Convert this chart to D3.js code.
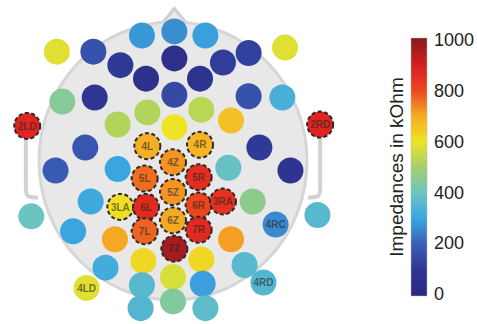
<!DOCTYPE html>
<html>
<head>
<meta charset="utf-8">
<script src="https://cdn.jsdelivr.net/npm/d3@7"></script>
<style>
  body { margin: 0; background: #fff; }
  svg { display: block; font-family: "Liberation Sans", Arial, sans-serif; }
</style>
</head>
<body>
<div class="canvas"></div>
<script>
// electrode labels ("" = unlabelled), head-relative positions and impedances (kOhm)
const labels = ["", "", "", "", "", "", "", "", "", "", "", "", "", "", "", "", "", "", "", "", "", "", "2LD", "2RD", "4L", "4R", "", "", "4Z", "", "", "", "", "5L", "5R", "5Z", "", "", "3LA", "6L", "6R", "3RA", "", "", "4RC", "6Z", "7L", "7R", "", "", "", "7Z", "", "", "", "", "", "", "", "4LD", "4RD", "", "", ""];
const posX = [-0.23, 0.01, 0.24, -0.86, -0.59, -0.39, 0.01, 0.37, 0.56, 0.83, -0.20, 0.20, -0.82, -0.58, 0.01, 0.56, 0.81, -0.19, 0.21, 0.43, -0.41, 0.01, -1.08, 1.09, -0.19, 0.20, -0.65, 0.64, 0.00, -0.87, -0.41, 0.41, 0.87, -0.21, 0.19, 0.00, -0.61, 0.59, -0.39, -0.20, 0.19, 0.37, -1.05, 1.07, 0.76, 0.00, -0.21, 0.19, -0.74, -0.43, 0.43, 0.01, -0.22, 0.21, -0.50, 0.53, 0.00, -0.23, 0.22, -0.64, 0.67, -0.24, 0.00, 0.24];
const posY = [-0.93, -0.96, -0.93, -0.81, -0.81, -0.71, -0.76, -0.73, -0.80, -0.84, -0.61, -0.61, -0.44, -0.47, -0.49, -0.48, -0.47, -0.36, -0.38, -0.30, -0.27, -0.25, -0.26, -0.27, -0.11, -0.12, -0.10, -0.10, 0.01, 0.07, 0.06, 0.05, 0.07, 0.13, 0.12, 0.23, 0.30, 0.30, 0.34, 0.34, 0.33, 0.30, 0.41, 0.40, 0.47, 0.44, 0.52, 0.51, 0.52, 0.58, 0.58, 0.65, 0.74, 0.73, 0.79, 0.77, 0.86, 0.92, 0.91, 0.94, 0.90, 1.09, 1.04, 1.09];
const impedance = [280, 265, 290, 580, 170, 110, 60, 120, 130, 580, 70, 80, 450, 100, 150, 170, 330, 520, 530, 660, 520, 600, 870, 870, 690, 680, 180, 110, 720, 190, 300, 390, 90, 760, 850, 720, 310, 460, 610, 860, 800, 840, 400, 360, 260, 700, 770, 860, 300, 700, 710, 960, 620, 620, 320, 360, 570, 360, 290, 580, 350, 350, 440, 370];
// labels that carry a dashed outline
const dashed = ["2LD", "2RD", "4L", "4R", "4Z", "5L", "5R", "5Z", "3LA", "6L", "6R", "3RA", "6Z", "7L", "7R", "7Z"];
const colorTicks = [0, 200, 400, 600, 800, 1000];

const data = labels.map((l, i) => ({ label: l, x: posX[i], y: posY[i], v: impedance[i] }));

const width = 477, height = 324;
const svg = d3.select(".canvas").append("svg")
  .attr("width", width)
  .attr("height", height);

// head scales
const cx = 173, cy = 161, R = 135;
const x = d3.scaleLinear().domain([-1, 1]).range([cx - R, cx + R]);
const y = d3.scaleLinear().domain([-1, 1]).range([cy - R, cy + R]);

// colour map (jet-like, as on the bar)
const stops = [
  [0, "#29287f"], [0.1, "#2e3592"], [0.2, "#3a5eb5"], [0.3, "#3aa6e0"],
  [0.4, "#6cc4c0"], [0.5, "#a3d06a"], [0.6, "#eee425"], [0.7, "#f5a824"],
  [0.8, "#e9461f"], [0.88, "#dd2020"], [1, "#871a1c"]
];
const color = d3.scaleLinear()
  .domain(stops.map(s => s[0] * 1000))
  .range(stops.map(s => s[1]))
  .interpolate(d3.interpolateRgb)
  .clamp(true);

// ears
const ear = d3.line().curve(d3.curveBasis);
svg.append("path")
  .attr("d", ear([[x(-1.09), y(-0.2)], [x(-1.09), y(0.05)], [x(-1.09), y(0.2)], [x(-1.09), y(0.27)], [x(-1.0), y(0.27)]]))
  .attr("fill", "none").attr("stroke", "#d2d2d2").attr("stroke-width", 4);
svg.append("path")
  .attr("d", ear([[x(1.09), y(-0.2)], [x(1.09), y(0.05)], [x(1.09), y(0.2)], [x(1.09), y(0.27)], [x(1.0), y(0.27)]]))
  .attr("fill", "none").attr("stroke", "#d2d2d2").attr("stroke-width", 4);

// nose
svg.append("path")
  .attr("d", d3.line()([[x(-0.12), y(-0.97)], [x(0.01), y(-1.13)], [x(0.14), y(-0.97)]]))
  .attr("fill", "#ececec").attr("stroke", "#d0d0d0").attr("stroke-width", 3);

// head
svg.append("ellipse")
  .attr("cx", cx).attr("cy", cy)
  .attr("rx", R - 1).attr("ry", R + 4)
  .attr("fill", "#e8e8e8")
  .attr("stroke", "#d6d6d6")
  .attr("stroke-width", 3);

// electrodes
const el = svg.append("g").selectAll("g")
  .data(data)
  .enter().append("g")
  .attr("transform", d => `translate(${x(d.x)},${y(d.y)})`);

el.append("circle")
  .attr("r", 13)
  .attr("fill", d => color(d.v))
  .attr("stroke", d => dashed.includes(d.label) ? "#2a2a2a" : "none")
  .attr("stroke-width", 2)
  .attr("stroke-dasharray", "4,2.5");

el.filter(d => d.label !== "").append("text")
  .attr("text-anchor", "middle")
  .attr("dy", "0.36em")
  .attr("font-size", 10)
  .attr("font-weight", "bold")
  .attr("fill", "#2b2222")
  .attr("fill-opacity", 0.6)
  .text(d => d.label);

// colour bar
const barX = 411, barW = 16;
const cb = d3.scaleLinear().domain([0, 1000]).range([294, 40]);

const grad = svg.append("defs").append("linearGradient")
  .attr("id", "cbar")
  .attr("x1", 0).attr("y1", 1).attr("x2", 0).attr("y2", 0);
grad.selectAll("stop")
  .data(d3.range(0, 1001, 50))
  .enter().append("stop")
  .attr("offset", d => d / 1000)
  .attr("stop-color", d => color(d));

svg.append("rect")
  .attr("x", barX).attr("y", cb(1000) - 2)
  .attr("width", barW).attr("height", cb(0) - cb(1000) + 4)
  .attr("fill", "url(#cbar)")
  .attr("stroke", "#bbb")
  .attr("stroke-width", 0.5);

const cAxis = svg.append("g")
  .attr("transform", `translate(${barX + barW + 5},0)`)
  .call(d3.axisRight(cb).tickValues(colorTicks).tickFormat(d3.format("d")).tickSize(0).tickPadding(2));
cAxis.select(".domain").remove();
cAxis.selectAll("text")
  .attr("font-size", 18)
  .attr("font-family", "Liberation Sans, Arial, sans-serif")
  .attr("fill", "#222");

svg.append("text")
  .attr("transform", `translate(403,${(cb(0) + cb(1000)) / 2}) rotate(-90)`)
  .attr("text-anchor", "middle")
  .attr("font-size", 19)
  .attr("fill", "#222")
  .text("Impedances in kOhm");
</script>
</body>
</html>
